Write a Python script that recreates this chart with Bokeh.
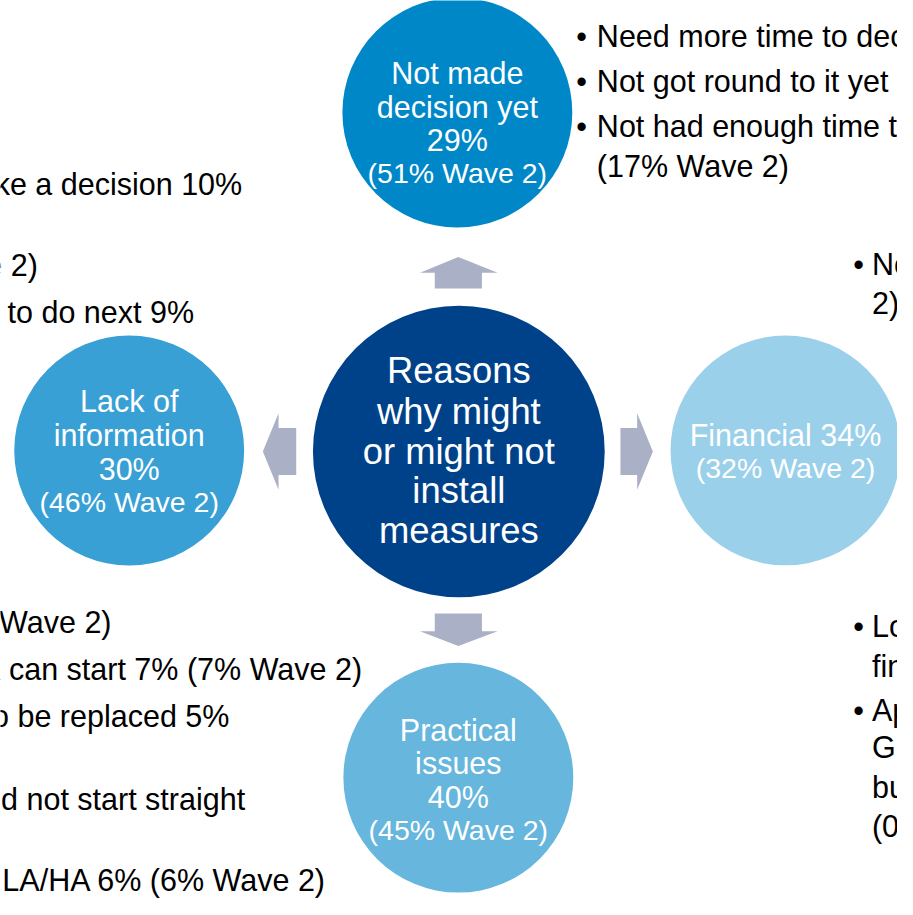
from bokeh.plotting import figure
from bokeh.models import Range1d
from bokeh.core.properties import value
from bokeh.embed import file_html
from bokeh.resources import INLINE

# ---------------- data ----------------
centre_lines = ["Reasons", "why might", "or might not", "install", "measures"]

node_names = ["Not made decision yet", "Lack of information", "Financial", "Practical issues"]
node_pct = [29, 30, 34, 40]
node_wave2 = [51, 46, 32, 45]

# reason bullets (visible parts of the slide, partly cropped at the edges)
top_right_lines = ["Need more time to decide 12%", "Not got round to it yet 9%",
                   "Not had enough time to think about it 7%", "(17% Wave 2)"]
top_right_bullet = [True, True, True, False]

left_top_lines = ["Need more information to make a decision 10%",
                  "(14% Wave 2)",
                  "Don't know what to do next 9%"]

left_bottom_lines = ["(5% Wave 2)",
                     "Don't know when the work can start 7% (7% Wave 2)",
                     "Measures don't need to be replaced 5%",
                     "Work would need to be done and not start straight",
                     "Need permission from LA/HA 6% (6% Wave 2)"]

right_lines = ["Not worth the money 20% (21% Wave", "2)",
               "Looking for", "finance", "Applied for", "Green Deal", "but waiting", "(0% Wave 2)"]
right_bullet = [True, False, True, False, True, False, False, False]

# ---------------- layout / style ----------------
W, H = 897, 899
REF_W, REF_H = 913, 915
S = W / REF_W  # px per layout unit


def fs(px):
    return f"{px * S:.1f}px"


FONT = value("Liberation Sans")
C_CENTRE = "#00428A"
NODE_COLORS = ["#0087C7", "#38A0D4", "#9BD0EA", "#66B6DD"]
ARROW = "#AAB1C6"

p = figure(width=W, height=H, output_backend="svg", toolbar_location=None,
           x_range=Range1d(0, REF_W), y_range=Range1d(REF_H, 0), min_border=0)
p.axis.visible = False
p.grid.visible = False
p.outline_line_color = None
p.background_fill_color = "white"

# circles
node_cx = [465, 131, 799, 466]
node_cy = [114, 458, 458, 791]
p.circle(x=[466.5] + node_cx, y=[459] + node_cy, radius=[148.5, 117, 117, 117, 117],
         fill_color=[C_CENTRE] + NODE_COLORS, line_color=None)

# arrows
ax = [
    [442, 442, 427, 466, 506, 490, 490],   # up
    [442, 442, 427, 466, 506, 490, 490],   # down
    [301, 283, 283, 267, 283, 283, 301],   # left
    [631, 648, 648, 664, 648, 648, 631],   # right
]
ay = [
    [293, 277, 277, 261, 277, 277, 293],
    [624, 642, 642, 657, 642, 642, 624],
    [435, 435, 420, 459, 498, 483, 483],
    [435, 435, 420, 459, 498, 483, 483],
]
p.patches(xs=ax, ys=ay, fill_color=ARROW, line_color=None)

# centre text
centre_y = [377, 418, 459, 499, 539]
p.text(x=[466.5] * len(centre_lines), y=centre_y, text=centre_lines,
       text_color="white", text_font=FONT, text_font_size=fs(37),
       text_align="center", text_baseline="middle")


# node texts
def node_lines(i):
    name = node_names[i]
    if name == "Financial":
        return [f"{name} {node_pct[i]}%"], f"({node_wave2[i]}% Wave 2)"
    if name.startswith("Not made"):
        first = ["Not made", "decision yet"]
    elif name.startswith("Lack"):
        first = ["Lack of", "information"]
    else:
        first = ["Practical", "issues"]
    return first + [f"{node_pct[i]}%"], f"({node_wave2[i]}% Wave 2)"


node_line_y = [
    [74, 108, 142, 176],
    [408, 442, 477, 510],
    [442, 476],
    [742, 776, 811, 844],
]
for i in range(4):
    main, wave = node_lines(i)
    ys = node_line_y[i]
    p.text(x=[node_cx[i]] * len(main), y=ys[:len(main)], text=main,
           text_color="white", text_font=FONT, text_font_size=fs(31),
           text_align="center", text_baseline="middle")
    p.text(x=[node_cx[i]], y=[ys[-1]], text=[wave],
           text_color="white", text_font=FONT, text_font_size=fs(29),
           text_align="center", text_baseline="middle")

TS = fs(31)

# top-right bullets
tr_y = [36, 82, 128, 168]
p.text(x=[607] * 4, y=tr_y, text=top_right_lines, text_color="black",
       text_font=FONT, text_font_size=TS, text_align="left", text_baseline="middle")
p.text(x=[586] * sum(top_right_bullet),
       y=[y for y, b in zip(tr_y, top_right_bullet) if b],
       text=["•"] * sum(top_right_bullet), text_color="black",
       text_font=FONT, text_font_size=TS, text_align="left", text_baseline="middle")

# left (cropped) texts, right-aligned at their visible ends
lt_x = [246, 38, 197]
lt_y = [187, 269, 317]
p.text(x=lt_x, y=lt_y, text=left_top_lines, text_color="black",
       text_font=FONT, text_font_size=TS, text_align="right", text_baseline="middle")

lb_x = [113, 368, 233, 249, 332]
lb_y = [633, 680, 728, 813, 895]
p.text(x=lb_x, y=lb_y, text=left_bottom_lines, text_color="black",
       text_font=FONT, text_font_size=TS, text_align="right", text_baseline="middle")

# right (cropped) bullets
r_y = [268, 308, 637, 677, 722, 760, 800, 840]
p.text(x=[887] * len(right_lines), y=r_y, text=right_lines, text_color="black",
       text_font=FONT, text_font_size=TS, text_align="left", text_baseline="middle")
p.text(x=[868] * sum(right_bullet),
       y=[y for y, b in zip(r_y, right_bullet) if b],
       text=["•"] * sum(right_bullet), text_color="black",
       text_font=FONT, text_font_size=TS, text_align="left", text_baseline="middle")

open("out.html", "w").write(file_html(p, INLINE))
